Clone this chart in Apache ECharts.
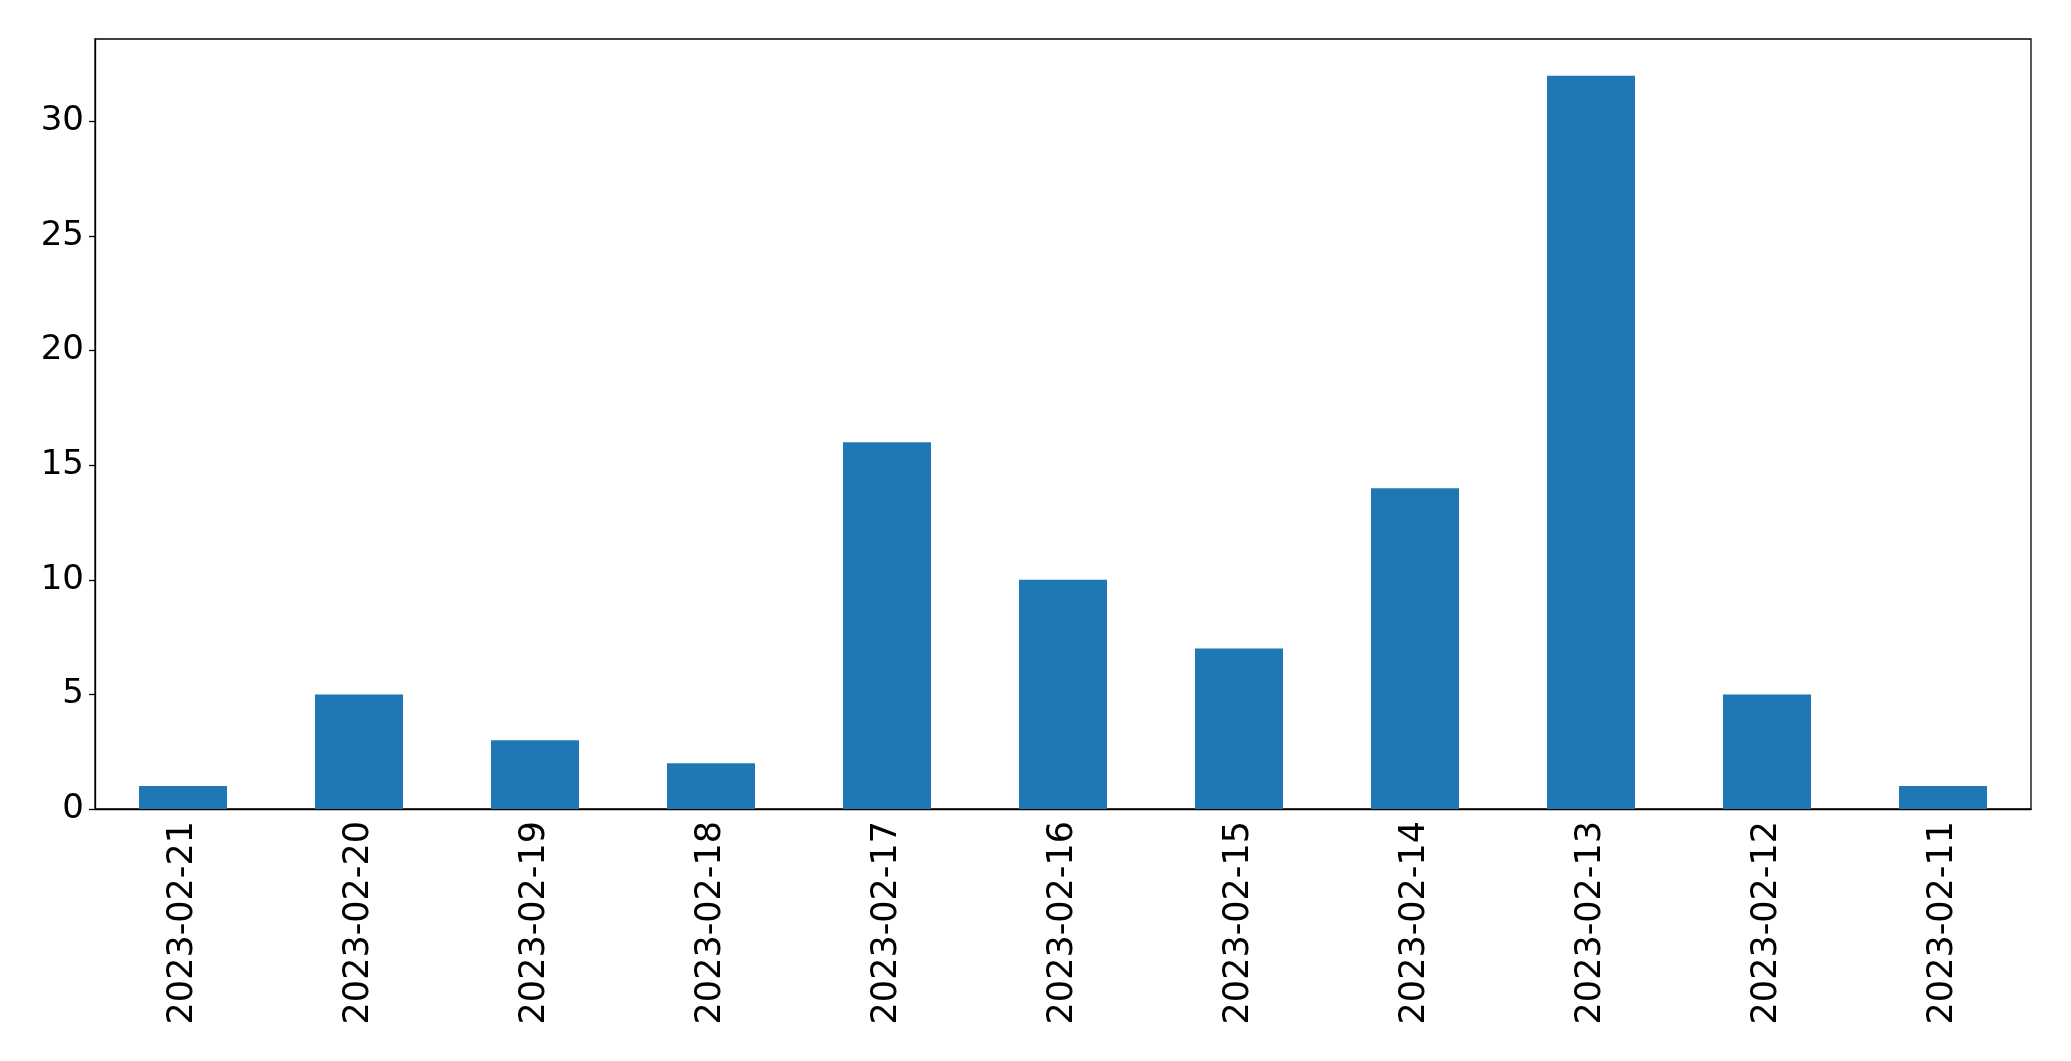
<!DOCTYPE html>
<html><head><meta charset="utf-8">
<script src="https://cdn.jsdelivr.net/npm/echarts@6/dist/echarts.min.js"></script>
<style>html,body{margin:0;padding:0;background:#fff}#c{width:2071px;height:1061px}</style>
</head><body><div id="c"></div>
<script>
const categories = ['2023-02-21','2023-02-20','2023-02-19','2023-02-18','2023-02-17','2023-02-16','2023-02-15','2023-02-14','2023-02-13','2023-02-12','2023-02-11'];
const values = [1,5,3,2,16,10,7,14,32,5,1];
const yTicks = [0,5,10,15,20,25,30];
const chart = echarts.init(document.getElementById('c'));
const font = 'DejaVu Sans';
chart.setOption({
  animation:false,
  backgroundColor:'#fff',
  grid:{left:95,right:40,top:39,bottom:252,show:true,borderColor:'#000',borderWidth:1.3,backgroundColor:'transparent'},
  xAxis:{type:'category',data:categories,
    axisLine:{lineStyle:{color:'#000',width:1.3}},
    axisTick:{alignWithLabel:true,length:6,lineStyle:{color:'#000',width:1.3}},
    axisLabel:{rotate:90,color:'#000',fontFamily:font,fontSize:35,margin:12,interval:0}},
  yAxis:{type:'value',min:0,max:33.6,interval:5,
    splitLine:{show:false},
    axisLine:{show:true,lineStyle:{color:'#000',width:1.3}},
    axisTick:{show:true,length:6,customValues:yTicks,lineStyle:{color:'#000',width:1.3}},
    axisLabel:{color:'#000',fontFamily:font,fontSize:34,margin:11,customValues:yTicks,
      formatter:v=>yTicks.includes(v)?String(v):''}},
  series:[{type:'bar',data:values,barWidth:'50%',itemStyle:{color:'#1f77b4'}}]
});
</script></body></html>
